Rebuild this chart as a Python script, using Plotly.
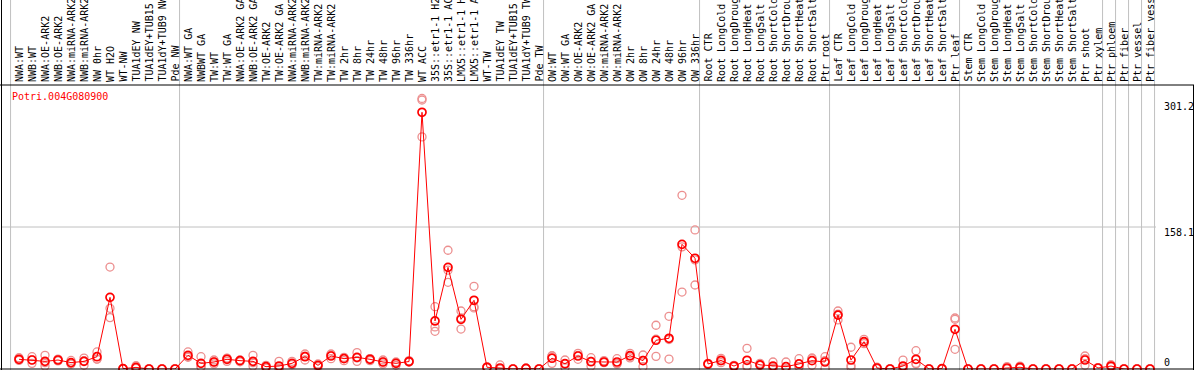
import plotly.graph_objects as go

labels = [
    "NWA:WT", "NWB:WT", "NWA:OE-ARK2", "NWB:OE-ARK2", "NWA:miRNA-ARK2", "NWB:miRNA-ARK2",
    "NW 0hr", "WT H2O", "WT-NW", "TUA1dEY NW", "TUA1dEY+TUB15 NW", "TUA1dY+TUB9 NW", "Pde NW",
    "NWA:WT GA", "NWBWT GA", "TW:WT", "TW:WT GA", "NWA:OE-ARK2 GA", "NWB:OE-ARK2 GA",
    "TW:OE-ARK2", "TW:OE-ARK2 GA", "NWA:miRNA-ARK2", "NWB:miRNA-ARK2", "TW:miRNA-ARK2",
    "TW:miRNA-ARK2", "TW 2hr", "TW 8hr", "TW 24hr", "TW 48hr", "TW 96hr", "TW 336hr",
    "WT ACC", "35S::etr1-1 H2O", "35S::etr1-1 ACC", "LMX5::etr1-1 H2O", "LMX5::etr1-1 ACC",
    "WT-TW", "TUA1dEY TW", "TUA1dEY+TUB15 TW", "TUA1dY+TUB9 TW", "Pde TW",
    "OW:WT", "OW:WT GA", "OW:OE-ARK2", "OW:OE-ARK2 GA", "OW:miRNA-ARK2", "OW:miRNA-ARK2",
    "OW 2hr", "OW 8hr", "OW 24hr", "OW 48hr", "OW 96hr", "OW 336hr",
    "Root CTR", "Root LongCold", "Root LongDrought", "Root LongHeat", "Root LongSalt",
    "Root ShortCold", "Root ShortDrought", "Root ShortHeat", "Root ShortSalt", "Ptr root",
    "Leaf CTR", "Leaf LongCold", "Leaf LongDrought", "Leaf LongHeat", "Leaf LongSalt",
    "Leaf ShortCold", "Leaf ShortDrought", "Leaf ShortHeat", "Leaf ShortSalt", "Ptr leaf",
    "Stem CTR", "Stem LongCold", "Stem LongDrought", "Stem LongHeat", "Stem LongSalt",
    "Stem ShortCold", "Stem ShortDrought", "Stem ShortHeat", "Stem ShortSalt",
    "Ptr shoot", "Ptr xylem", "Ptr phloem", "Ptr fiber", "Ptr vessel", "Ptr fiber vessel",
]

mean_vals = [
    10.8, 10.0, 8.5, 10.0, 7.1, 8.5, 13.7, 79.8, 0.4, 1.8, 0, 0, 0,
    15.2, 6.3, 7.8, 10.8, 9.3, 8.5, 2.6, 3.3, 6.3, 13.7, 4.1, 14.5, 11.5, 13.0, 10.8, 7.8, 6.3, 8.3,
    285.8, 53.5, 113.2, 55.3, 76.5, 1.9, 1.1, 0, 0.7, 0,
    12.0, 5.9, 14.5, 8.1, 7.8, 7.8, 14.8, 9.3, 32.0, 34.2, 138.8, 123.3,
    5.6, 9.5, 3.3, 9.7, 4.6, 3.3, 2.6, 5.6, 9.3, 7.8,
    60.0, 10.0, 30.4, 1.1, 0, 3.3, 10.8, 0, 0.4, 44.2,
    0, 0, 0, 1.1, 1.9, 0, 0, 0, 0,
    10.0, 1.1, 3.3, 0, 0, 0,
]

rep1 = [
    12.5, 13.7, 15.2, 11.0, 9.5, 12.2, 19.0, 113.5, 0.5, 3.6, 0, 0, 0,
    19.0, 13.7, 10.0, 12.2, 10.0, 15.2, 4.1, 8.5, 8.5, 16.7, 5.6, 16.7, 13.0, 18.2, 11.5, 10.0, 7.8, 9.3,
    301.2, 69.4, 132.2, 64.6, 92.1, 2.5, 4.5, 0, 1.2, 0,
    14.8, 10.0, 17.5, 12.6, 9.3, 11.5, 17.5, 15.6, 48.7, 58.7, 193.4, 154.8,
    6.3, 11.9, 4.1, 23.0, 6.3, 7.8, 7.8, 11.5, 12.3, 13.7,
    64.6, 24.2, 33.0, 2.0, 0, 9.9, 20.4, 0, 0.5, 56.8,
    0, 0, 0, 2.6, 3.3, 0, 0, 0, 0,
    14.5, 1.5, 4.8, 0, 0, 0,
]

rep2 = [
    9.5, 6.3, 3.3, 9.0, 5.5, 4.1, 11.0, 67.6, 0.3, 0.8, 0, 0, 0,
    13.7, 2.6, 5.6, 8.5, 8.0, 3.3, 1.1, 1.1, 4.8, 10.0, 2.6, 11.5, 9.3, 8.5, 9.3, 5.6, 4.1, 7.8,
    299.5, 46.8, 96.5, 56.8, 69.4, 1.5, 0, 0, 0.5, 0,
    14.5, 5.8, 15.2, 8.4, 7.1, 6.3, 14.5, 9.7, 33.2, 32.8, 136.0, 121.5,
    5.0, 9.0, 2.6, 3.5, 4.0, 1.1, 0, 2.7, 11.5, 9.3,
    61.0, 1.9, 30.0, 0.8, 0, 0, 6.3, 0, 0.3, 55.3,
    0, 0, 0, 0.5, 1.5, 0, 0, 0, 0,
    11.4, 1.0, 3.0, 0, 0, 0,
]

rep3 = [
    10.5, 10.3, 7.0, 10.0, 6.3, 9.2, 11.1, 57.2, 0.4, 1.0, 0, 0, 0,
    13.0, 2.6, 7.8, 11.7, 9.9, 7.0, 2.6, 0.3, 5.6, 14.4, 4.1, 15.3, 12.2, 12.3, 11.6, 7.8, 7.0, 7.8,
    258.4, 42.0, 110.0, 44.5, 68.0, 1.7, 0, 0, 0.4, 0,
    6.3, 1.9, 10.8, 3.3, 7.9, 5.6, 12.4, 2.6, 14.1, 11.1, 85.7, 93.5,
    5.5, 7.0, 3.3, 2.6, 4.1, 1.0, 0, 2.6, 4.1, 0.4,
    54.6, 3.9, 28.2, 0.5, 0, 0, 5.7, 0, 0.4, 21.9,
    0, 0, 0, 0.2, 0.9, 0, 0, 0, 0,
    4.1, 0.8, 2.1, 0, 0, 0,
]

group_starts = [0, 13, 41, 53, 63, 73, 84, 85, 86, 87, 88]
y_tick_vals = [0, 158.1, 301.2]
y_tick_text = ["0", "158.1", "301.2"]
y_tick_shift = [7, -5.5, -8.5]
y_top = 316.2
gene_id = "Potri.004G080900"

W, H = 1194, 370
ML, MR, MT, MB = 2, 38, 85, 1
PW = W - ML - MR
PH = H - MT - MB
step = 13.0
x0 = -(19 - ML) / step
x1 = x0 + PW / step

MONO = "DejaVu Sans Mono"
GRID = "#c0c0c0"

xs = list(range(len(labels)))

fig = go.Figure()
fig.add_trace(go.Scatter(
    x=xs * 3, y=rep1 + rep2 + rep3, mode="markers",
    marker=dict(symbol="circle-open", size=8, color="#EC8F8F", line=dict(width=1.3)),
    cliponaxis=False, hoverinfo="skip", showlegend=False,
))
fig.add_trace(go.Scatter(
    x=xs, y=mean_vals, mode="lines+markers",
    line=dict(color="#ff0000", width=1),
    marker=dict(symbol="circle-open", size=8, color="#ff0000", line=dict(width=1.7)),
    cliponaxis=False, showlegend=False,
))

shapes = []
top_paper = (H - MB) / PH
bot_paper = -MB / PH
for g in group_starts:
    shapes.append(dict(type="line", xref="x", yref="paper", x0=g - 0.65, x1=g - 0.65,
                       y0=bot_paper, y1=top_paper + 0.01, line=dict(color=GRID, width=1), layer="below"))
shapes.append(dict(type="line", xref="paper", yref="y", x0=0, x1=1, y0=158.1, y1=158.1,
                   line=dict(color=GRID, width=1), layer="below"))
left_p = -ML / PW
right_p = (W - ML) / PW
shapes.append(dict(type="line", xref="paper", yref="paper", x0=left_p, x1=right_p, y0=1, y1=1,
                   line=dict(color="black", width=1)))
shapes.append(dict(type="line", xref="paper", yref="paper", x0=left_p, x1=right_p, y0=0, y1=0,
                   line=dict(color="black", width=1)))
shapes.append(dict(type="line", xref="paper", yref="paper", x0=(1.5 - ML) / PW, x1=(1.5 - ML) / PW,
                   y0=bot_paper, y1=top_paper + 0.01, line=dict(color="black", width=1)))
shapes.append(dict(type="line", xref="paper", yref="paper", x0=(1193.5 - ML) / PW, x1=(1193.5 - ML) / PW,
                   y0=bot_paper, y1=1, line=dict(color="black", width=1)))

annotations = []
for i, lab in enumerate(labels):
    annotations.append(dict(x=i, xref="x", y=1, yref="paper", text=lab, showarrow=False,
                            textangle=-90, xanchor="center", yanchor="bottom", yshift=1,
                            font=dict(family=MONO, size=10, color="black")))
annotations.append(dict(x=(10 - ML) / PW, xref="paper", y=1, yref="paper", text=gene_id,
                        showarrow=False, xanchor="left", yanchor="top", yshift=-4,
                        font=dict(family=MONO, size=10, color="#ff0000")))
for v, t, s in zip(y_tick_vals, y_tick_text, y_tick_shift):
    annotations.append(dict(x=(1162 - ML) / PW, xref="paper", y=v, yref="y", text=t,
                            showarrow=False, xanchor="left", yanchor="middle", yshift=s,
                            font=dict(family=MONO, size=10, color="black")))

fig.update_layout(
    width=W, height=H,
    margin=dict(l=ML, r=MR, t=MT, b=MB, pad=0),
    paper_bgcolor="white", plot_bgcolor="white",
    xaxis=dict(range=[x0, x1], visible=False, showgrid=False, zeroline=False, fixedrange=True),
    yaxis=dict(range=[0, y_top], visible=False, showgrid=False, zeroline=False, fixedrange=True),
    shapes=shapes, annotations=annotations, showlegend=False,
    hovermode=False,
)

fig.write_html(
    "out.html",
    config={"displayModeBar": False},
    post_script="document.body.style.margin='0';document.body.style.overflow='hidden';",
)
